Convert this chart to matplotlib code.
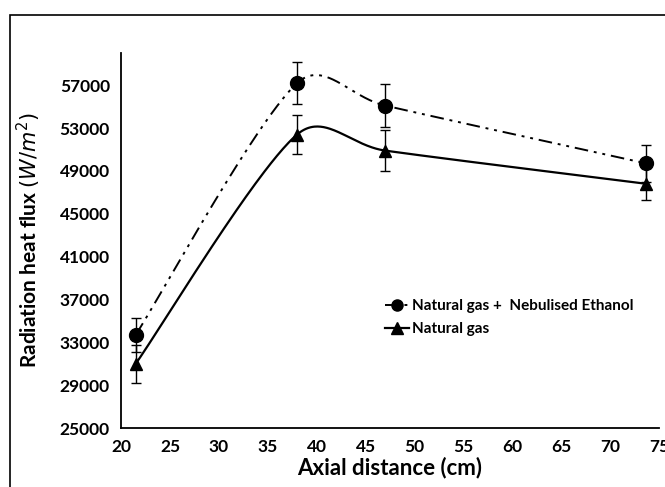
import numpy as np
import matplotlib
matplotlib.use('Agg')
from matplotlib import pyplot as plt
from matplotlib.lines import Line2D
from matplotlib.patches import Rectangle

plt.rcParams['font.family'] = ['Lato', 'DejaVu Sans']
plt.rcParams['mathtext.fontset'] = 'dejavusans'

# data
x_ethanol = [21.5, 38.0, 47.0, 73.7]
y_ethanol = [33700, 57200, 55100, 49700]
err_ethanol = [1600, 1950, 2000, 1700]

x_ng = [21.5, 38.0, 47.0, 73.7]
y_ng = [31000, 52400, 50900, 47800]
err_ng = [1750, 1800, 1900, 1500]

x_ticks = [20, 25, 30, 35, 40, 45, 50, 55, 60, 65, 70, 75]
y_ticks = [25000, 29000, 33000, 37000, 41000, 45000, 49000, 53000, 57000]


# excel style smoothed line: bezier through the points, worked out in
# screen space, with each handle kept short relative to its segment
def smooth(ax, xs, ys, n=80, k=0.4):
    p = ax.transData.transform(np.column_stack([xs, ys]))
    pts = []
    for i in range(len(p) - 1):
        prev = p[i - 1] if i > 0 else p[i]
        nxt = p[i + 2] if i + 2 < len(p) else p[i + 1]
        seg_len = np.hypot(*(p[i + 1] - p[i]))
        h1 = (p[i + 1] - prev) / 6.0
        h2 = (nxt - p[i]) / 6.0
        for h in (h1, h2):
            ln = np.hypot(*h)
            if ln > k * seg_len:
                h *= k * seg_len / ln
        c1 = p[i] + h1
        c2 = p[i + 1] - h2
        t = np.linspace(0, 1, n)[:, None]
        seg = ((1 - t) ** 3 * p[i] + 3 * (1 - t) ** 2 * t * c1
               + 3 * (1 - t) * t ** 2 * c2 + t ** 3 * p[i + 1])
        pts.append(seg)
    pts = ax.transData.inverted().transform(np.vstack(pts))
    return pts[:, 0], pts[:, 1]


fig = plt.figure(figsize=(6.65, 4.87), dpi=100)
fig.patches.append(Rectangle((0.015, -0.1), 1.2, 1.07, transform=fig.transFigure,
                             fill=False, edgecolor='black', linewidth=1.2))
ax = fig.add_axes([0.182, 0.121, 0.809, 0.770])
ax.set_xlim(20, 75)
ax.set_ylim(25000, 60000)

dashdotdot = (0, (7, 3, 1.5, 3, 1.5, 3))

sx, sy = smooth(ax, x_ethanol, y_ethanol)
ax.plot(sx, sy, color='black', linewidth=1.4, linestyle=dashdotdot)
ax.errorbar(x_ethanol, y_ethanol, yerr=err_ethanol, fmt='o', color='black',
            markersize=10, ecolor='black', elinewidth=1, capsize=3.5, capthick=1)

sx, sy = smooth(ax, x_ng, y_ng)
ax.plot(sx, sy, color='black', linewidth=1.6)
ax.errorbar(x_ng, y_ng, yerr=err_ng, fmt='^', color='black',
            markersize=9, ecolor='black', elinewidth=1, capsize=3.5, capthick=1)

ax.set_xlim(20, 75)
ax.set_ylim(25000, 60000)
ax.set_xticks(x_ticks)
ax.set_yticks(y_ticks)
ax.tick_params(length=0, labelsize=12.5, pad=8)
for lab in ax.get_xticklabels() + ax.get_yticklabels():
    lab.set_fontweight('bold')
ax.spines['top'].set_visible(False)
ax.spines['right'].set_visible(False)
ax.spines['left'].set_linewidth(1.3)
ax.spines['bottom'].set_linewidth(1.3)

ax.set_xlabel('Axial distance (cm)', fontsize=16, fontweight='bold', labelpad=1)
ax.set_ylabel('Radiation heat flux $(W/m^2)$', fontsize=15, fontweight='bold', labelpad=12)

handles = [
    Line2D([], [], color='black', linestyle=dashdotdot, linewidth=1.4, marker='o', markersize=8),
    Line2D([], [], color='black', linewidth=1.6, marker='^', markersize=8),
]
ax.legend(handles, ['Natural gas +  Nebulised Ethanol', 'Natural gas'],
          loc='center left', bbox_to_anchor=(0.465, 0.295), frameon=False,
          handlelength=1.6, handletextpad=0.2, labelspacing=0.6,
          prop={'weight': 'bold', 'size': 11})

fig.savefig('out.png', dpi=100)
